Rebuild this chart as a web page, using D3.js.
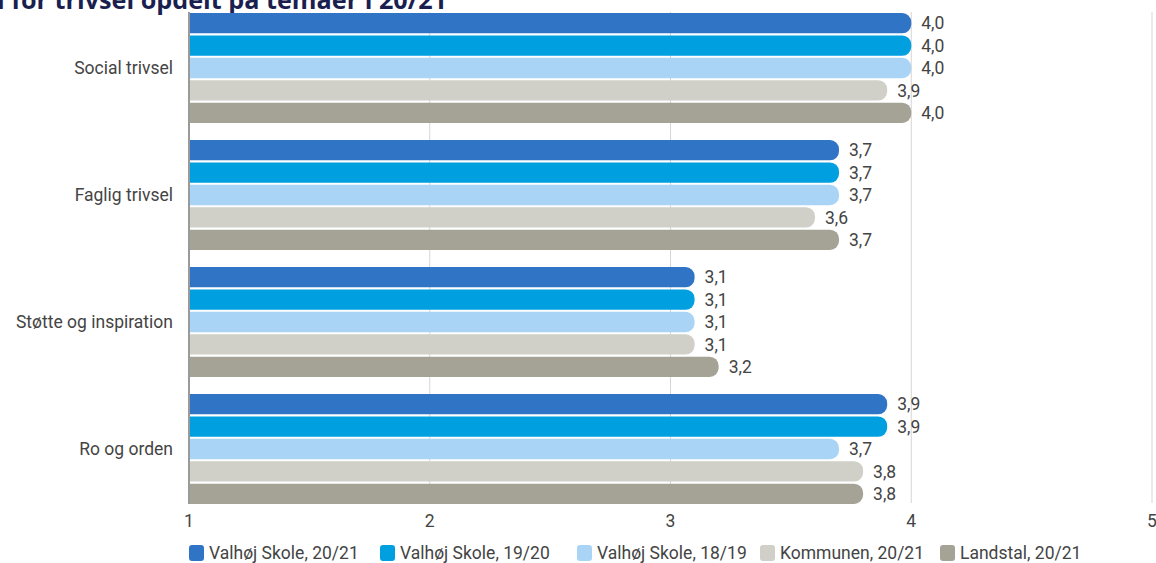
<!DOCTYPE html>
<html><head><meta charset="utf-8">
<script src="https://cdn.jsdelivr.net/npm/d3@7"></script>
<style>
html,body{margin:0;padding:0;background:#fff;overflow:hidden}
svg{display:block}
</style></head>
<body>
<svg id="chart" width="1156" height="563"></svg>
<script>
const categories = ["Social trivsel", "Faglig trivsel", "Støtte og inspiration", "Ro og orden"];
const seriesNames = ["Valhøj Skole, 20/21", "Valhøj Skole, 19/20", "Valhøj Skole, 18/19", "Kommunen, 20/21", "Landstal, 20/21"];
const valhoej2021 = [4.0, 3.7, 3.1, 3.9];
const valhoej1920 = [4.0, 3.7, 3.1, 3.9];
const valhoej1819 = [4.0, 3.7, 3.1, 3.7];
const kommunen2021 = [3.9, 3.6, 3.1, 3.8];
const landstal2021 = [4.0, 3.7, 3.2, 3.8];
const xTicks = [1, 2, 3, 4, 5];
const titleText = "l for trivsel opdelt på temaer i 20/21";

const seriesValues = [valhoej2021, valhoej1920, valhoej1819, kommunen2021, landstal2021];
const colors = ["#3074c6", "#009fe0", "#a9d4f5", "#d0d0c8", "#a4a396"];

const svg = d3.select("#chart");
const font = "Roboto, 'Noto Sans', sans-serif";
const fs = 17.5;

const x = d3.scaleLinear().domain([1, 5]).range([189, 1152]);
const groupY = d3.scaleLinear().domain([0, 1]).range([13, 140]);
const y1 = d3.scaleBand().domain(d3.range(seriesNames.length)).range([0, 110]).paddingInner(2/22).paddingOuter(0);

// title (clipped at top, as in the reference)
svg.append("text")
  .attr("x", 447).attr("y", 9)
  .attr("text-anchor", "end")
  .attr("font-family", "'Open Sans', 'DejaVu Sans', sans-serif")
  .attr("font-weight", "bold")
  .attr("font-size", 25)
  .attr("textLength", 450)
  .attr("lengthAdjust", "spacingAndGlyphs")
  .attr("fill", "#1b1f4f")
  .text(titleText);

// gridlines
svg.append("g").selectAll("line").data(xTicks.slice(1)).join("line")
  .attr("x1", d => x(d)).attr("x2", d => x(d))
  .attr("y1", 12).attr("y2", 503)
  .attr("stroke", "#d5d5d5").attr("stroke-width", 1);

const barPath = (x0, x1, yTop, h, r) => {
  const w = x1 - x0;
  r = Math.min(r, w, h / 2);
  return `M${x0},${yTop}H${x1 - r}A${r},${r} 0 0 1 ${x1},${yTop + r}V${yTop + h - r}A${r},${r} 0 0 1 ${x1 - r},${yTop + h}H${x0}Z`;
};

const data = [];
categories.forEach((c, ci) => {
  seriesValues.forEach((vals, si) => {
    data.push({ c, ci, si, v: vals[ci] });
  });
});

const bars = svg.append("g");
bars.selectAll("path").data(data).join("path")
  .attr("d", d => barPath(x(1), x(d.v), groupY(d.ci) + y1(d.si), y1.bandwidth(), 9))
  .attr("fill", d => colors[d.si]);

bars.selectAll("text").data(data).join("text")
  .attr("x", d => x(d.v) + 10)
  .attr("y", d => groupY(d.ci) + y1(d.si) + y1.bandwidth() / 2)
  .attr("dy", "0.35em")
  .attr("font-family", font).attr("font-size", fs)
  .attr("fill", "#444")
  .text(d => d3.format(".1f")(d.v).replace(".", ","));

// left axis line
svg.append("line")
  .attr("x1", x(1)).attr("x2", x(1))
  .attr("y1", 12).attr("y2", 504)
  .attr("stroke", "#9a9a9a").attr("stroke-width", 2);

// category labels
svg.append("g").selectAll("text").data(categories).join("text")
  .attr("x", 173)
  .attr("y", (d, i) => groupY(i) + 55)
  .attr("dy", "0.35em")
  .attr("text-anchor", "end")
  .attr("font-family", font).attr("font-size", fs)
  .attr("fill", "#444")
  .text(d => d);

// x tick labels
svg.append("g").selectAll("text").data(xTicks).join("text")
  .attr("x", d => x(d))
  .attr("y", 521)
  .attr("dy", "0.35em")
  .attr("text-anchor", "middle")
  .attr("font-family", font).attr("font-size", fs)
  .attr("fill", "#444")
  .text(d => d);

// legend
const legendX = [189, 380, 577, 760, 940];
const lg = svg.append("g").selectAll("g").data(seriesNames).join("g")
  .attr("transform", (d, i) => `translate(${legendX[i]},545)`);
lg.append("rect").attr("width", 15).attr("height", 16).attr("rx", 3)
  .attr("fill", (d, i) => colors[i]);
lg.append("text").attr("x", 20).attr("y", 8).attr("dy", "0.35em")
  .attr("font-family", font).attr("font-size", fs).attr("fill", "#444")
  .text(d => d);
</script>
</body></html>
